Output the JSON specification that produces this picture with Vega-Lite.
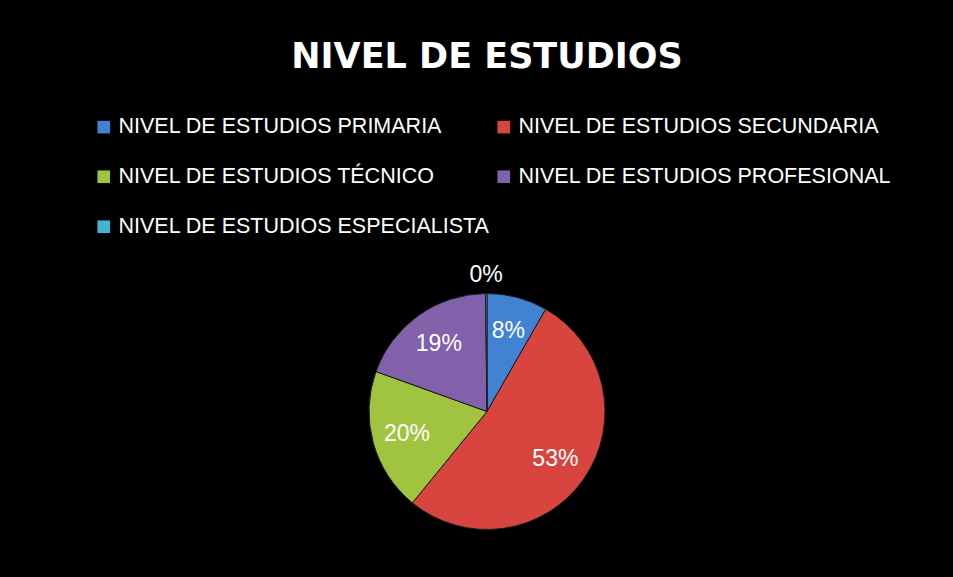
{
  "$schema": "https://vega.github.io/schema/vega-lite/v6.json",
  "autosize": {"type": "none"},
  "padding": {"left": 21, "top": 246, "right": 0, "bottom": 0},
  "width": 932,
  "height": 331,
  "background": "black",
  "view": {"stroke": null},
  "title": {
    "text": "NIVEL DE ESTUDIOS",
    "font": "DejaVu Sans",
    "fontWeight": "bold",
    "fontSize": 35,
    "color": "white",
    "anchor": "middle",
    "baseline": "alphabetic",
    "offset": 13
  },
  "data": {
    "values": [
      {"nivel": "NIVEL DE ESTUDIOS PRIMARIA", "pct": 0.083, "orden": 1},
      {"nivel": "NIVEL DE ESTUDIOS SECUNDARIA", "pct": 0.526, "orden": 2},
      {"nivel": "NIVEL DE ESTUDIOS TÉCNICO", "pct": 0.196, "orden": 3},
      {"nivel": "NIVEL DE ESTUDIOS PROFESIONAL", "pct": 0.193, "orden": 4},
      {"nivel": "NIVEL DE ESTUDIOS ESPECIALISTA", "pct": 0.002, "orden": 5}
    ]
  },
  "encoding": {
    "theta": {"field": "pct", "type": "quantitative", "stack": true},
    "order": {"field": "orden", "type": "quantitative"}
  },
  "layer": [
    {
      "mark": {"type": "arc", "outerRadius": 118, "stroke": "#1a1a1a", "strokeWidth": 1},
      "encoding": {
        "color": {
          "field": "nivel",
          "type": "nominal",
          "scale": {
            "domain": [
              "NIVEL DE ESTUDIOS PRIMARIA",
              "NIVEL DE ESTUDIOS SECUNDARIA",
              "NIVEL DE ESTUDIOS TÉCNICO",
              "NIVEL DE ESTUDIOS PROFESIONAL",
              "NIVEL DE ESTUDIOS ESPECIALISTA"
            ],
            "range": ["#4282D2", "#D8453E", "#A0C440", "#8061AA", "#45B4D0"]
          },
          "legend": {
            "orient": "none",
            "direction": "horizontal",
            "legendX": 72,
            "legendY": -130,
            "columns": 2,
            "title": null,
            "symbolType": "square",
            "symbolSize": 160,
            "symbolStrokeWidth": 0,
            "labelFont": "Liberation Sans",
            "labelFontSize": 21.5,
            "labelColor": "white",
            "labelLimit": 0,
            "labelOffset": 4,
            "rowPadding": 27,
            "columnPadding": 3
          }
        }
      }
    },
    {
      "mark": {"type": "text", "radius": 83, "font": "Liberation Sans", "fontSize": 23, "color": "white"},
      "encoding": {
        "text": {"field": "pct", "type": "quantitative", "format": ".0%"},
        "opacity": {"condition": {"test": "datum.pct < 0.01", "value": 0}, "value": 1}
      }
    },
    {
      "mark": {"type": "text", "radius": 137, "font": "Liberation Sans", "fontSize": 23, "color": "white"},
      "encoding": {
        "text": {"field": "pct", "type": "quantitative", "format": ".0%"},
        "opacity": {"condition": {"test": "datum.pct < 0.01", "value": 1}, "value": 0}
      }
    }
  ]
}
